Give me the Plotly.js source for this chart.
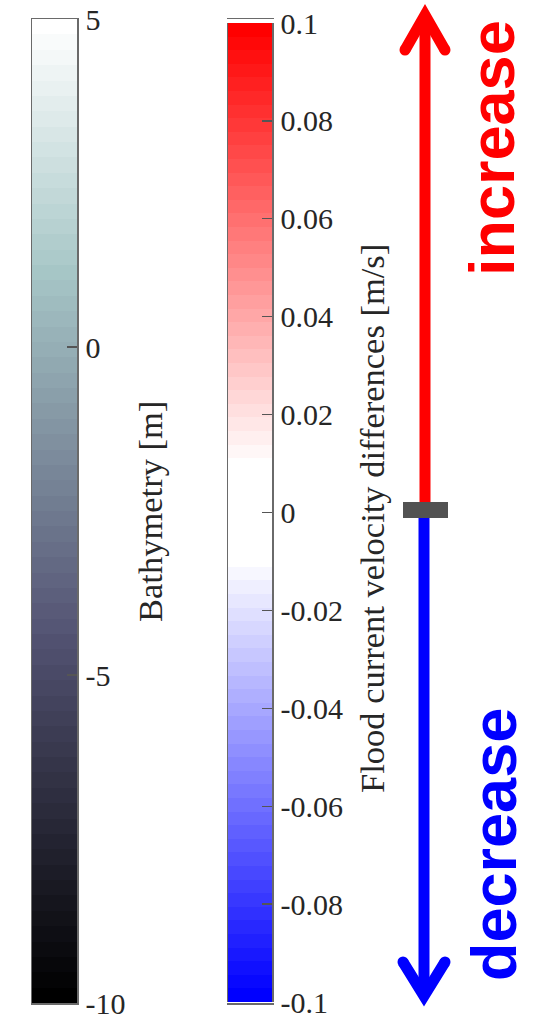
<!DOCTYPE html>
<html>
<head>
<meta charset="utf-8">
<script src="https://cdn.plot.ly/plotly-3.0.1.min.js"></script>
<style>html,body{margin:0;padding:0;background:#fff;}#chart{width:544px;height:1015px;}</style>
</head>
<body>
<div id="chart"></div>
<script>
// ---------------- data ----------------
const bathyRange = [-10, 5];
const bathyTickVals = [5, 0, -5, -10];
const bathyTickText = ['5', '0', '-5', '-10'];
const bathyLevels = 64;
const bathyTitle = 'Bathymetry [m]';

const velRange = [-0.1, 0.1];
const velTickVals = [0.1, 0.08, 0.06, 0.04, 0.02, 0, -0.02, -0.04, -0.06, -0.08, -0.1];
const velTickText = ['0.1', '0.08', '0.06', '0.04', '0.02', '0', '-0.02', '-0.04', '-0.06', '-0.08', '-0.1'];
const velLevels = 72;
const velWhiteLevels = 8;
const velTitle = 'Flood current velocity differences [m/s]';

const arrowLabels = ['increase', 'decrease'];

// ---------------- helpers ----------------
const W = 544, H = 1015;
const px = x => x / W;
const py = y => 1 - y / H;

function rgb(c) { return 'rgb(' + c.map(v => Math.round(v * 255)).join(',') + ')'; }

function bone(t) {
  const hr = Math.min(1, t / 0.375);
  const hg = Math.min(1, Math.max(0, (t - 0.375) / 0.375));
  const hb = Math.max(0, (t - 0.75) / 0.25);
  return [(7 * t + hb) / 8, (7 * t + hg) / 8, (7 * t + hr) / 8];
}

function stepScale(colors) {
  const n = colors.length, s = [];
  colors.forEach((c, i) => { s.push([i / n, c]); s.push([(i + 1) / n, c]); });
  return s;
}

function levelColumn(range, n) {
  const step = (range[1] - range[0]) / n, ys = [], zs = [];
  for (let i = 0; i < n; i++) { const v = range[0] + (i + 0.5) * step; ys.push(v); zs.push([v]); }
  return { ys, zs };
}

// bathymetry colours
const bathyColors = [];
for (let i = 0; i < bathyLevels; i++) bathyColors.push(rgb(bone(i / (bathyLevels - 1))));

// velocity colours: blue -> white band -> red
const velColors = [];
const half = (velLevels - velWhiteLevels) / 2;
for (let i = 0; i < half; i++) { const t = (half - i) / half; velColors.push(rgb([1 - t, 1 - t, 1])); }
for (let i = 0; i < velWhiteLevels; i++) velColors.push('rgb(255,255,255)');
for (let j = 1; j <= half; j++) { const t = j / half; velColors.push(rgb([1, 1 - t, 1 - t])); }

const bCol = levelColumn(bathyRange, bathyLevels);
const vCol = levelColumn(velRange, velLevels);

const traces = [
  { type: 'heatmap', x: [0], y: bCol.ys, z: bCol.zs, zmin: bathyRange[0], zmax: bathyRange[1],
    colorscale: stepScale(bathyColors), showscale: false, zsmooth: false, xaxis: 'x', yaxis: 'y', hoverinfo: 'skip' },
  { type: 'heatmap', x: [0], y: vCol.ys, z: vCol.zs, zmin: velRange[0], zmax: velRange[1],
    colorscale: stepScale(velColors), showscale: false, zsmooth: false, xaxis: 'x2', yaxis: 'y2', hoverinfo: 'skip' }
];

const lineCol = '#6a6a6a';
const tickFont = { family: 'Liberation Serif, Times New Roman, serif', size: 30, color: '#262626' };
const titleFont = { family: 'Liberation Serif, Times New Roman, serif', size: 34.5, color: '#262626' };

function xAx(l, r) {
  return { domain: [px(l), px(r)], range: [-0.5, 0.5], showticklabels: false, ticks: '', showgrid: false,
           zeroline: false, showline: true, mirror: true, linecolor: lineCol, linewidth: 1.5, fixedrange: true };
}
function yAx(top, bot, range, vals, text, anchor) {
  return { domain: [py(bot), py(top)], range: range, side: 'right', anchor: anchor, ticks: 'inside', ticklen: 10,
           tickwidth: 1.3, tickcolor: '#555', tickmode: 'array', tickvals: vals, ticktext: text, tickfont: tickFont,
           ticklabelstandoff: 1, ticklabeloverflow: 'allow', showgrid: false, zeroline: false, showline: true, mirror: true,
           linecolor: lineCol, linewidth: 1.5, fixedrange: true };
}

const red = '#ff0000', blue = '#0000ff', aw = 11;
function seg(x0, y0, x1, y1, c) {
  return { type: 'line', xref: 'paper', yref: 'paper', x0: px(x0), y0: py(y0), x1: px(x1), y1: py(y1), line: { color: c, width: aw } };
}
function chevron(xl, yw, xt, yt, xr, c) {
  return { type: 'path', xref: 'paper', yref: 'paper',
           path: 'M ' + px(xl) + ' ' + py(yw) + ' L ' + px(xt) + ' ' + py(yt) + ' L ' + px(xr) + ' ' + py(yw),
           line: { color: c, width: aw } };
}
function cap(x, y, c) {
  const r = aw / 2;
  return { type: 'circle', xref: 'paper', yref: 'paper', x0: px(x - r), x1: px(x + r), y0: py(y + r), y1: py(y - r),
           fillcolor: c, line: { width: 0 } };
}

const shapes = [
  seg(425, 503, 425, 22, red),
  chevron(405, 50, 425, 15, 445, red),
  cap(405, 50, red), cap(445, 50, red),
  seg(424, 517, 424, 988, blue),
  chevron(403, 962, 424, 996, 445, blue),
  cap(403, 962, blue), cap(445, 962, blue),
  { type: 'rect', xref: 'paper', yref: 'paper', x0: px(403), x1: px(448), y0: py(518), y1: py(502),
    fillcolor: '#525252', line: { width: 0 } }
];

const annotations = [
  { text: bathyTitle, xref: 'paper', yref: 'paper', x: px(150), y: py(512), textangle: -90, showarrow: false,
    xanchor: 'center', yanchor: 'middle', font: titleFont },
  { text: velTitle, xref: 'paper', yref: 'paper', x: px(372), y: py(519), textangle: -90, showarrow: false,
    xanchor: 'center', yanchor: 'middle', font: titleFont },
  { text: arrowLabels[0], xref: 'paper', yref: 'paper', x: px(492), y: py(148), textangle: -90, showarrow: false,
    xanchor: 'center', yanchor: 'middle', font: { family: 'Liberation Sans, Arial, sans-serif', size: 63, color: red, weight: 'bold' } },
  { text: arrowLabels[1], xref: 'paper', yref: 'paper', x: px(494), y: py(845), textangle: -90, showarrow: false,
    xanchor: 'center', yanchor: 'middle', font: { family: 'Liberation Sans, Arial, sans-serif', size: 63, color: blue, weight: 'bold' } }
];

const layout = {
  width: W, height: H, margin: { l: 0, r: 0, t: 0, b: 0 }, paper_bgcolor: '#fff', plot_bgcolor: '#fff',
  showlegend: false,
  xaxis: xAx(32, 77),
  yaxis: yAx(19, 1003, bathyRange, bathyTickVals, bathyTickText, 'x'),
  xaxis2: xAx(228, 272),
  yaxis2: yAx(23, 1002, velRange, velTickVals, velTickText, 'x2'),
  shapes: shapes,
  annotations: annotations
};

Plotly.newPlot('chart', traces, layout, { staticPlot: true, displayModeBar: false });
</script>
</body>
</html>
